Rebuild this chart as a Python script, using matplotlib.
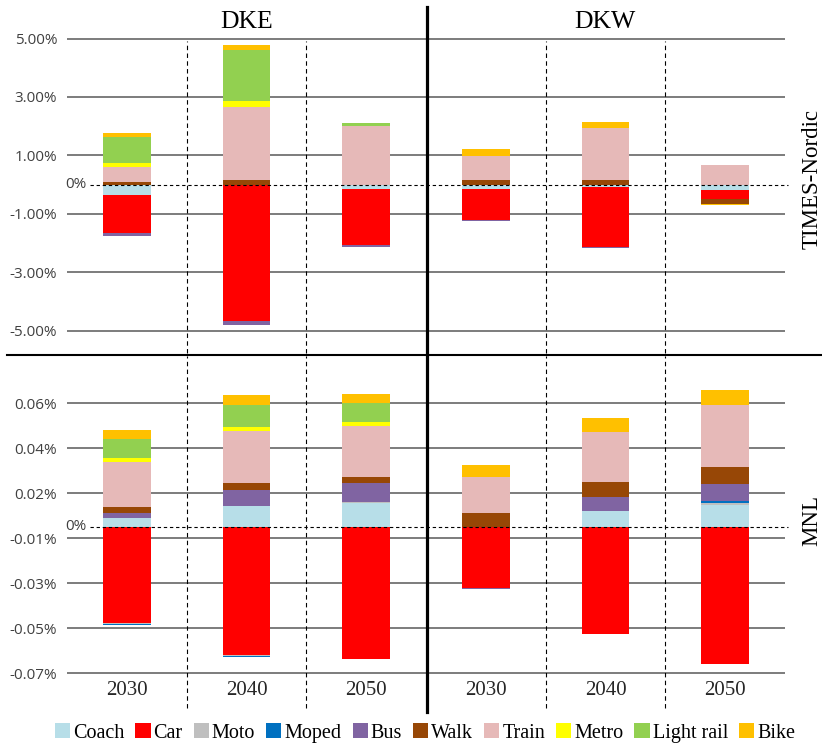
import numpy as np
import matplotlib
matplotlib.use("Agg")
import matplotlib.pyplot as plt
from matplotlib.patches import Patch

# ---- data -------------------------------------------------------------
regions = ["DKE", "DKW"]
years = ["2030", "2040", "2050"]
models = ["TIMES-Nordic", "MNL"]
modes = ["Coach", "Car", "Moto", "Moped", "Bus", "Walk", "Train", "Metro", "Light rail", "Bike"]
mode_colors = ["#B7DEE8", "#FF0000", "#BFBFBF", "#0070C0", "#8064A2",
               "#974706", "#E6B9B8", "#FFFF00", "#92D050", "#FFC000"]

# change in modal share (%), columns: DKE 2030/2040/2050, DKW 2030/2040/2050
times_coach = [-0.37, 0.00, -0.16, -0.16, -0.08, -0.19]
times_car = [-1.29, -4.66, -1.92, -1.07, -2.07, -0.31]
times_moto = [0.00, 0.00, 0.00, 0.00, 0.00, 0.00]
times_moped = [0.00, 0.00, 0.00, 0.00, 0.00, 0.00]
times_bus = [-0.11, -0.14, -0.07, -0.03, -0.01, 0.00]
times_walk = [0.09, 0.14, 0.00, 0.17, 0.14, -0.17]
times_train = [0.51, 2.50, 2.01, 0.82, 1.79, 0.68]
times_metro = [0.15, 0.23, 0.00, 0.00, 0.00, 0.00]
times_lightrail = [0.89, 1.72, 0.11, 0.00, 0.00, 0.00]
times_bike = [0.12, 0.20, 0.00, 0.23, 0.20, -0.02]

mnl_coach = [0.0039, 0.0093, 0.0108, 0.0000, 0.0073, 0.0098]
mnl_car = [-0.0426, -0.0570, -0.0588, -0.0273, -0.0476, -0.0611]
mnl_moto = [-0.0003, -0.0003, 0.0003, 0.0000, 0.0000, 0.0010]
mnl_moped = [-0.0006, -0.0005, 0.0000, 0.0000, 0.0000, 0.0006]
mnl_bus = [0.0024, 0.0071, 0.0085, -0.0002, 0.0062, 0.0077]
mnl_walk = [0.0025, 0.0030, 0.0025, 0.0064, 0.0064, 0.0077]
mnl_train = [0.0200, 0.0233, 0.0228, 0.0157, 0.0224, 0.0273]
mnl_metro = [0.0019, 0.0018, 0.0018, 0.0000, 0.0000, 0.0000]
mnl_lightrail = [0.0086, 0.0098, 0.0086, 0.0000, 0.0000, 0.0000]
mnl_bike = [0.0039, 0.0042, 0.0040, 0.0053, 0.0061, 0.0070]

times_ticks = [-5.0, -3.0, -1.0, 1.0, 3.0, 5.0]
times_ticklabels = ["-5.00%", "-3.00%", "-1.00%", "1.00%", "3.00%", "5.00%"]
mnl_ticks = [-0.065, -0.045, -0.025, -0.005, 0.015, 0.035, 0.055]
mnl_ticklabels = ["-0.07%", "-0.05%", "-0.03%", "-0.01%", "0.02%", "0.04%", "0.06%"]

times_series = [times_coach, times_car, times_moto, times_moped, times_bus,
                times_walk, times_train, times_metro, times_lightrail, times_bike]
mnl_series = [mnl_coach, mnl_car, mnl_moto, mnl_moped, mnl_bus,
              mnl_walk, mnl_train, mnl_metro, mnl_lightrail, mnl_bike]

# ---- layout helpers (pixel based) -------------------------------------
W, H = 822, 747
fig = plt.figure(figsize=(W / 100, H / 100), dpi=100)

SERIF = "Liberation Serif"
SANS = "Open Sans"
TICK_COLOR = "#404040"
GRID_COLOR = "#595959"
TICK_SIZE = 11

X_LEFT, X_RIGHT = 67, 785


def add_axes_px(top, bottom):
    return fig.add_axes([X_LEFT / W, 1 - bottom / H,
                         (X_RIGHT - X_LEFT) / W, (bottom - top) / H])


def px_to_data_y(ax, ypx):
    inv = ax.transData.inverted()
    return inv.transform((0, H - ypx))[1]


def px_to_data_x(ax, xpx):
    inv = ax.transData.inverted()
    return inv.transform((xpx, 0))[0]


def draw_panel(ax, series, ticks, ticklabels, ylim, sep_top_px, sep_bottom_px):
    x = np.arange(len(regions) * len(years))
    ax.set_xlim(-0.5, len(x) - 0.5)
    ax.set_ylim(*ylim)
    for s in ax.spines.values():
        s.set_visible(False)

    for t in ticks:
        ax.axhline(t, color=GRID_COLOR, lw=1.1, zorder=1)

    pos_base = np.zeros(len(x))
    neg_base = np.zeros(len(x))
    for vals, col in zip(series, mode_colors):
        v = np.asarray(vals, dtype=float)
        pos = np.where(v > 0, v, 0.0)
        neg = np.where(v < 0, v, 0.0)
        ax.bar(x, pos, 0.4, bottom=pos_base, color=col, lw=0, zorder=3)
        ax.bar(x, neg, 0.4, bottom=neg_base, color=col, lw=0, zorder=3)
        pos_base += pos
        neg_base += neg

    ax.set_yticks(ticks)
    ax.set_yticklabels(ticklabels, fontfamily=SANS, fontsize=TICK_SIZE, color=TICK_COLOR)
    ax.tick_params(axis="y", length=0, pad=7)

    # zero reference
    ax.hlines(0, px_to_data_x(ax, 90), px_to_data_x(ax, 788), colors="black",
              lw=0.8, linestyles=(0, (3, 2.5)), zorder=4, clip_on=False)
    ax.text(px_to_data_x(ax, 87), 0, "0%", ha="right", va="center",
            fontfamily=SANS, fontsize=TICK_SIZE, color=TICK_COLOR)

    # dashed separators between years
    y0 = px_to_data_y(ax, sep_bottom_px)
    y1 = px_to_data_y(ax, sep_top_px)
    for xs in (0.5, 1.5, 3.5, 4.5):
        ax.vlines(xs, y0, y1, colors="black", lw=0.8, linestyles=(0, (4, 3)),
                  zorder=2, clip_on=False)


# top panel: 0 at 184.5 px, 29.2 px per 1 %
top_ax = add_axes_px(36, 352)
zero_t, scale_t = 184.5, 29.2
draw_panel(top_ax, times_series, times_ticks, times_ticklabels,
           ((zero_t - 352) / scale_t, (zero_t - 36) / scale_t), 41, 353)
top_ax.set_xticks([])

# bottom panel: 0 at 527 px, 2250 px per 1 %
bot_ax = add_axes_px(357, 675)
zero_b, scale_b = 527, 2250.0
draw_panel(bot_ax, mnl_series, mnl_ticks, mnl_ticklabels,
           ((zero_b - 675) / scale_b, (zero_b - 357) / scale_b), 356, 708)
bot_ax.set_xticks(np.arange(6))
bot_ax.set_xticklabels(years * 2, fontfamily=SERIF, fontsize=15, color="#262626")
bot_ax.tick_params(axis="x", length=0, pad=4)

# frame lines splitting regions and models
fig.add_artist(plt.Line2D([427 / W, 427 / W], [1 - 7 / H, 1 - 712 / H],
                          color="black", lw=2.3))
fig.add_artist(plt.Line2D([7 / W, 1.0], [1 - 355 / H, 1 - 355 / H],
                          color="black", lw=1.5))

# headings
fig.text(247 / W, 1 - 22 / H, "DKE", ha="center", va="center",
         fontfamily=SERIF, fontsize=18.5)
fig.text(605 / W, 1 - 22 / H, "DKW", ha="center", va="center",
         fontfamily=SERIF, fontsize=18.5)
fig.text(812 / W, 1 - 179 / H, "TIMES-Nordic", ha="center", va="center",
         rotation=90, fontfamily=SERIF, fontsize=16.5)
fig.text(812 / W, 1 - 520 / H, "MNL", ha="center", va="center",
         rotation=90, fontfamily=SERIF, fontsize=16.5)

# legend
handles = [Patch(facecolor=c, edgecolor="none") for c in mode_colors]
fig.legend(handles, modes, loc="center", bbox_to_anchor=(425 / W, 1 - 733 / H),
           ncol=len(modes), frameon=False, handlelength=0.75, handleheight=0.75,
           handletextpad=0.15, columnspacing=0.55,
           prop={"family": SERIF, "size": 14.5})

fig.savefig("out.png", dpi=100)
